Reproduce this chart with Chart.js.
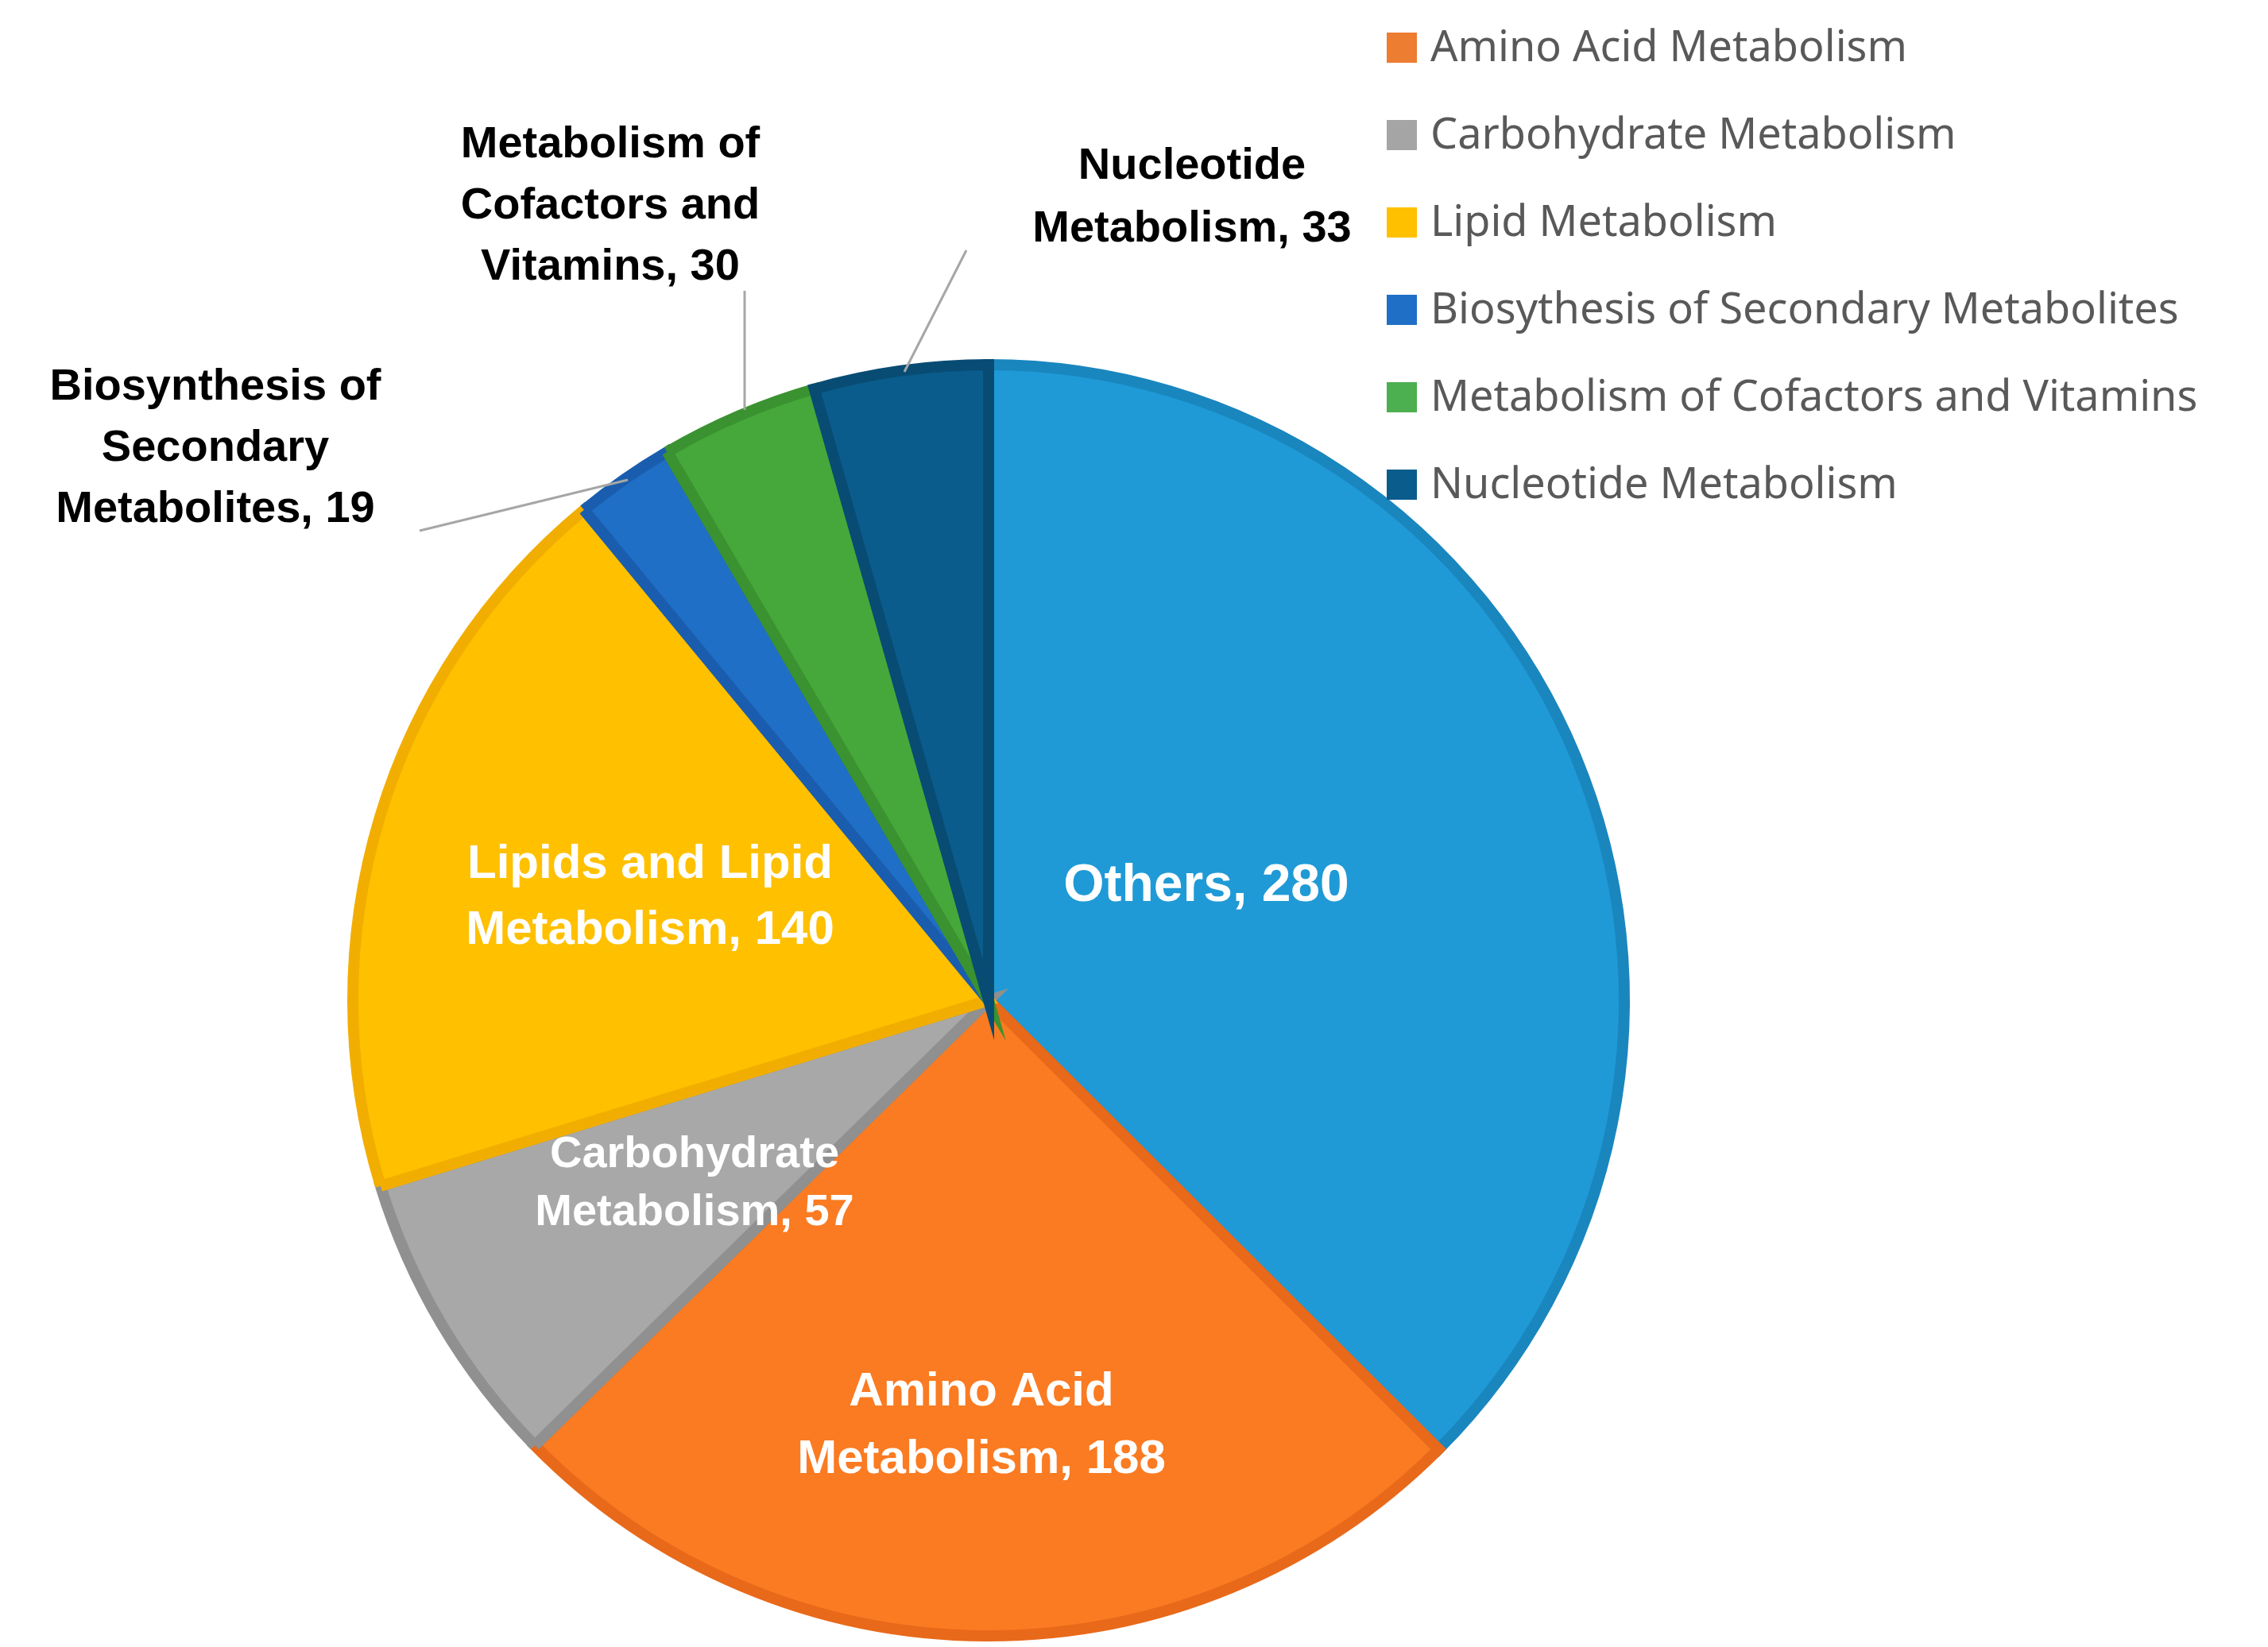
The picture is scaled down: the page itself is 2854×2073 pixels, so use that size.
<!DOCTYPE html>
<html><head><meta charset="utf-8">
<script src="https://cdn.jsdelivr.net/npm/chart.js@4"></script>
<style>html,body{margin:0;padding:0;background:#fff;overflow:hidden}</style>
</head><body>
<canvas id="c" width="2854" height="2073" style="width:2854px;height:2073px"></canvas>
<script>
const categories = ["Others","Amino Acid Metabolism","Carbohydrate Metabolism","Lipid Metabolism","Biosythesis of Secondary Metabolites","Metabolism of Cofactors and Vitamins","Nucleotide Metabolism"];
const values = [280,188,57,140,19,30,33];
const sliceLabels = [["Others, 280"],["Amino Acid","Metabolism, 188"],["Carbohydrate","Metabolism, 57"],["Lipids and Lipid","Metabolism, 140"],["Biosynthesis of","Secondary","Metabolites, 19"],["Metabolism of","Cofactors and","Vitamins, 30"],["Nucleotide","Metabolism, 33"]];
const fills = ["#1F9AD6","#FA7B22","#A8A8A8","#FFC000","#1F6FC6","#46A83A","#0A5C8C"];
const borders = ["#1A86BE","#E8691A","#909090","#F2AE00","#1A5DAE","#3A9230","#084C74"];
const legendColors = ["#ED7D31","#A5A5A5","#FFC000","#1F6FC6","#4CAF50","#0A5C8C"];

// label layout (text anchor, font size, color, leader line end)
const labelLayout = [
 {x:1518,y:1116,size:66,color:"#fff",lh:0},
 {x:1235,y:1752,size:60,color:"#fff",lh:85},
 {x:874,y:1454,size:56,color:"#fff",lh:73},
 {x:818,y:1088,size:60,color:"#fff",lh:83},
 {x:271,y:488,size:56,color:"#000",lh:77,lead:[[528,668],[790,604]]},
 {x:768,y:183,size:56,color:"#000",lh:77,lead:[[937,366],[937,516]]},
 {x:1500,y:210,size:56,color:"#000",lh:79,lead:[[1216,315],[1138,468]]}
];

const overlay = {
 id:'overlay',
 afterDraw(chart){
  const ctx = chart.ctx;
  ctx.save();
  // leader lines
  ctx.strokeStyle="#A6A6A6"; ctx.lineWidth=3;
  labelLayout.forEach(l=>{ if(!l.lead) return;
    ctx.beginPath(); ctx.moveTo(l.lead[0][0],l.lead[0][1]); ctx.lineTo(l.lead[1][0],l.lead[1][1]); ctx.stroke();});
  ctx.textAlign="center"; ctx.textBaseline="middle";
  sliceLabels.forEach((lines,i)=>{
    const l = labelLayout[i];
    ctx.font = "bold "+l.size+"px 'Liberation Sans', Arial, sans-serif";
    ctx.fillStyle = l.color;
    lines.forEach((t,k)=>ctx.fillText(t,l.x,l.y+k*l.lh));
  });
  // legend
  ctx.textAlign="left";
  ctx.font = "54px 'Noto Sans', sans-serif";
  categories.slice(1).forEach((c,i)=>{
    const y = 60 + i*110;
    ctx.fillStyle = legendColors[i];
    ctx.fillRect(1745,y-19,38,38);
    ctx.fillStyle = "#595959";
    ctx.fillText(c,1800,y+2);
  });
  ctx.restore();
 }
};

new Chart(document.getElementById('c'),{
 type:'pie',
 data:{labels:categories,datasets:[{data:values,backgroundColor:fills,borderColor:borders,borderWidth:14,borderJoinStyle:'miter'}]},
 options:{responsive:false,animation:false,devicePixelRatio:1,
  layout:{padding:{left:437,right:803,top:452,bottom:7}},
  plugins:{legend:{display:false},tooltip:{enabled:false}}},
 plugins:[overlay]
});
</script>
</body></html>
